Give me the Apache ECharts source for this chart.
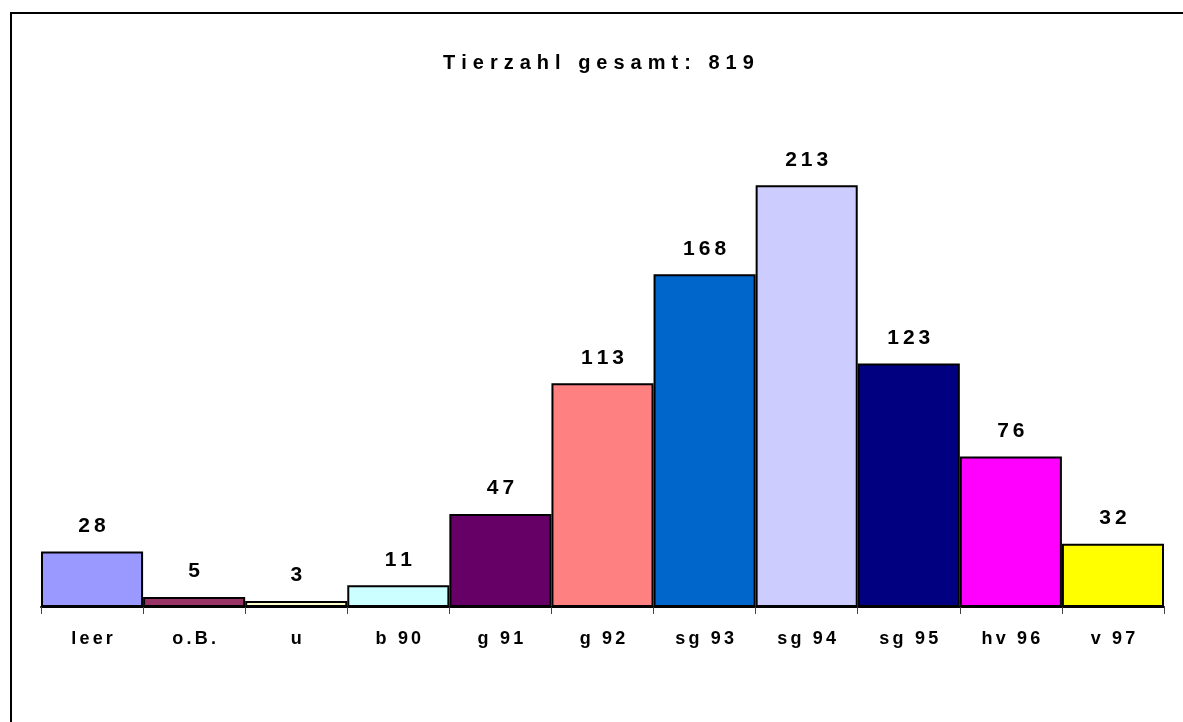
<!DOCTYPE html>
<html>
<head>
<meta charset="utf-8">
<script src="https://cdn.jsdelivr.net/npm/echarts@6/dist/echarts.min.js"></script>
<style>
html,body{margin:0;padding:0;background:#fff;}
#chart{width:1183px;height:722px;}
</style>
</head>
<body>
<div id="chart"></div>
<script>
const titleText = "Tierzahl gesamt: 819";
const categories = ["leer", "o.B.", "u", "b 90", "g 91", "g 92", "sg 93", "sg 94", "sg 95", "hv 96", "v 97"];
const values = [28, 5, 3, 11, 47, 113, 168, 213, 123, 76, 32];
const colors = ["#9999FF", "#993366", "#FFFFCC", "#CCFFFF", "#660066", "#FF8080", "#0066CC", "#CCCCFF", "#000080", "#FF00FF", "#FFFF00"];

// letter-spaced rendering: each character is its own rich-text token with side padding
function spaced(str, key) {
  return String(str).split('').map(c => '{' + key + '|' + c + '}').join('');
}

const chart = echarts.init(document.getElementById('chart'));
const font = "Liberation Sans";
chart.setOption({
  animation: false,
  backgroundColor: '#ffffff',
  title: {
    text: spaced(titleText, 't'),
    left: 435,
    top: 47,
    textStyle: {
      fontFamily: font, fontWeight: 700, fontSize: 20, color: '#000',
      rich: { t: { fontFamily: font, fontWeight: 700, fontSize: 20, color: '#000', padding: [0, 3, 0, 3], lineHeight: 22 } }
    }
  },
  graphic: [{
    type: 'rect',
    shape: { x: 11, y: 13, width: 1300, height: 900 },
    style: { fill: 'none', stroke: '#000', lineWidth: 2 },
    silent: true
  }],
  grid: { left: 41, right: 19, top: 112, bottom: 115, containLabel: false },
  xAxis: {
    type: 'category',
    data: categories,
    axisLine: { show: true, lineStyle: { color: '#000', width: 2 } },
    axisTick: { show: true, interval: 0, alignWithLabel: false, length: 7, lineStyle: { color: '#444', width: 1 } },
    axisLabel: {
      interval: 0,
      margin: 22,
      fontFamily: font, fontWeight: 700, fontSize: 18, color: '#000',
      formatter: v => spaced(v, 'c'),
      rich: { c: { fontFamily: font, fontWeight: 700, fontSize: 18, color: '#000', padding: [0, 1.6, 0, 1.6], lineHeight: 20 } }
    }
  },
  yAxis: {
    type: 'value',
    min: 0,
    max: 250,
    show: false,
    splitLine: { show: false }
  },
  series: [{
    type: 'bar',
    barCategoryGap: '0%',
    data: values.map((v, i) => ({ value: v, itemStyle: { color: colors[i] } })),
    itemStyle: { borderColor: '#000', borderWidth: 2 },
    label: {
      show: true,
      position: 'top',
      distance: 14,
      fontFamily: font, fontWeight: 700, fontSize: 21, color: '#000',
      formatter: p => spaced(p.value, 'v'),
      rich: { v: { fontFamily: font, fontWeight: 700, fontSize: 21, color: '#000', padding: [0, 2, 0, 2], lineHeight: 23 } }
    }
  }]
});
</script>
</body>
</html>
